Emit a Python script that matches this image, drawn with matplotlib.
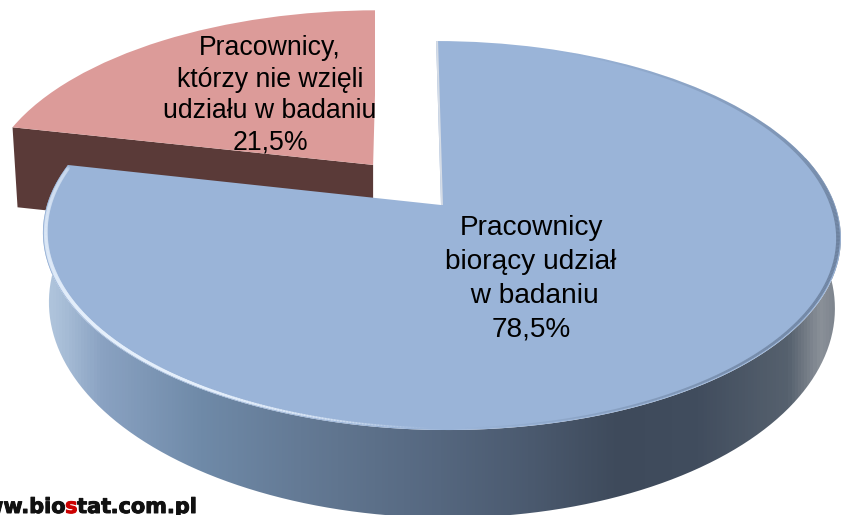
import numpy as np
import matplotlib
matplotlib.use("Agg")
import matplotlib.pyplot as plt
from matplotlib.path import Path
from matplotlib.patches import PathPatch, Rectangle
from matplotlib.transforms import Transform
from matplotlib.colors import LinearSegmentedColormap, to_rgba
from matplotlib.collections import LineCollection
import matplotlib.patheffects as pe

# ---- data ----
categories = ["Pracownicy\nbiorący udział\n w badaniu\n78,5%",
              "Pracownicy,\nktórzy nie wzięli\nudziału w badaniu\n21,5%"]
values = [78.5, 21.5]
explode = [0.0, 0.28]
top_colors = ["#9ab4d8", "#dc9b99"]
side_red = "#5a3a38"

# ---- perspective of the tilted disc ----
W, H = 842, 515
XC, YC, A, B, K, SHEAR = 441.0, 205.0, 394.0, 189.7, 0.157, 0.03
BOTTOM_DROP, BOTTOM_XS, BOTTOM_YS = 67.0, 0.985, 1.092
DROP_RED = 80.0
RED_RADIUS = 1.005
RED_CLIP_X = 374.5
RIM_INSET = 0.993


def project(u, v, bottom=False):
    s = 1.0 / (1.0 + K * v)
    dy = B * v * s
    dx = A * u * s
    if bottom:
        return XC + BOTTOM_XS * dx - SHEAR * dy, YC + BOTTOM_DROP - BOTTOM_YS * dy
    return XC + dx - SHEAR * dy, YC - dy


class Persp(Transform):
    input_dims = output_dims = 2
    is_separable = False
    has_inverse = False

    def transform_non_affine(self, values):
        v = np.asarray(values, float)
        x, y = project(v[:, 0], v[:, 1])
        return np.column_stack([x, y])


fig = plt.figure(figsize=(W / 100, H / 100), dpi=100)
ax = fig.add_axes([0, 0, 1, 1])

wedges, _ = ax.pie(values, explode=explode, colors=top_colors, startangle=90,
                   counterclock=False, radius=1.0)
ax.set_aspect("auto")
ax.set_xlim(0, W)
ax.set_ylim(H, 0)
ax.axis("off")

blue, red = wedges
red.set_radius(RED_RADIUS)
persp = Persp() + ax.transData
for w in wedges:
    w.set_transform(persp)
    w.set_clip_on(False)
    w.set_linewidth(0)
blue.set_zorder(5)
red.set_zorder(2)
red.set_clip_on(True)
red.set_clip_path(Rectangle((0, 0), RED_CLIP_X, H, transform=ax.transData))

blue_sweep = values[0] * 3.6  # clockwise degrees from twelve o'clock

# side of the blue slice with a horizontal gradient
cw = np.radians(np.linspace(75, blue_sweep, 400))
ux, uy = np.sin(cw), np.cos(cw)
xt, yt = project(ux, uy)
xb, yb = project(ux, uy, bottom=True)
poly = np.column_stack([np.r_[xt, xb[::-1]], np.r_[yt, yb[::-1]]])
X0, X1 = 40.0, 842.0
side_stops = [(40, "#b4c8df"), (60, "#a9bfd8"), (100, "#8aa2c2"), (200, "#6f8aa8"),
              (300, "#647a95"), (440, "#55677f"), (530, "#4b5a6f"), (620, "#3e4a5b"),
              (700, "#414d5e"), (790, "#56616e"), (822, "#8a9098"), (842, "#7a828c")]
side_cmap = LinearSegmentedColormap.from_list(
    "side", [((x - X0) / (X1 - X0), c) for x, c in side_stops])
grad = np.linspace(0, 1, 800)[None, :]
im = ax.imshow(grad, extent=[X0, X1, H, 0], cmap=side_cmap, aspect="auto", zorder=3)
ax.set_xlim(0, W)
ax.set_ylim(H, 0)
im.set_clip_path(PathPatch(Path(poly), transform=ax.transData))

# radial wall of the exploded red slice
mid = np.radians(blue_sweep + values[1] * 1.8)
cu, cv = explode[1] * np.sin(mid), explode[1] * np.cos(mid)
edge = np.radians(blue_sweep)
x0, y0 = project(cu + RED_RADIUS * np.sin(edge), cv + RED_RADIUS * np.cos(edge))
x1, y1 = project(cu, cv)
ax.fill([x0, x1, x1, x0 + 5], [y0, y1, y1 + DROP_RED, y0 + DROP_RED],
        color=side_red, lw=0, zorder=1)

# lit bevel along the rim of the blue top face
rim_deg = np.linspace(5, blue_sweep - 1, 700)
cw_rim = np.radians(rim_deg)
rx, ry = project(RIM_INSET * np.sin(cw_rim), RIM_INSET * np.cos(cw_rim))
pts = np.column_stack([rx, ry])
segs = np.stack([pts[:-1], pts[1:]], axis=1)
md = (rim_deg[:-1] + rim_deg[1:]) / 2

light = LineCollection(segs, linewidths=np.interp(md, [180, 215, 250, 282], [1.0, 2.0, 3.0, 2.5]),
                       colors=[to_rgba("#e6f0fc", a) for a in
                               np.interp(md, [182, 195, 212, 232, 250, 282],
                                         [0.0, 0.5, 0.95, 0.9, 0.5, 0.25])],
                       zorder=6, capstyle="round")
ax.add_collection(light)
shade = LineCollection(segs, linewidths=np.interp(md, [20, 90, 170], [1.0, 3.0, 1.0]),
                       colors=[to_rgba("#4e5f78", a) for a in
                               np.interp(md, [20, 60, 100, 140, 178], [0.0, 0.3, 0.6, 0.45, 0.0])],
                       zorder=6)
ax.add_collection(shade)

# thin light edge on the upright cut of the blue slice
xe0, ye0 = project(0.0, 0.0)
xe1, ye1 = project(0.0, 1.0)
ax.plot([xe0 + 1, xe1 + 1], [ye0, ye1], color="#d5dce6", lw=1.4, zorder=6,
        solid_capstyle="butt")

font = ["Liberation Sans", "DejaVu Sans"]
ax.text(270, 95.5, categories[1], ha="center", va="center", fontsize=19.2,
        family=font, linespacing=1.27, zorder=20)
ax.text(531, 279, categories[0], ha="center", va="center", fontsize=20.2,
        family=font, linespacing=1.40, zorder=20)

# source mark, cut by the picture edge
mark = dict(fontsize=15, fontweight="bold", family="DejaVu Sans", va="baseline",
            path_effects=[pe.withStroke(linewidth=0.7, foreground="#111111")])
red_mark = dict(mark, path_effects=[pe.withStroke(linewidth=0.7, foreground="#cc0000")])
BASE = 513
right = 197
renderer = fig.canvas.get_renderer()
for piece, color, style in [(".com.pl", "#111111", mark), ("tat", "#111111", mark),
                            ("s", "#cc0000", red_mark), ("www.bio", "#111111", mark)]:
    t = fig.text(right / W, 1 - BASE / H, piece, ha="right", color=color, **style)
    right = t.get_window_extent(renderer).x0 + 0.5

fig.savefig("out.png", dpi=100)
